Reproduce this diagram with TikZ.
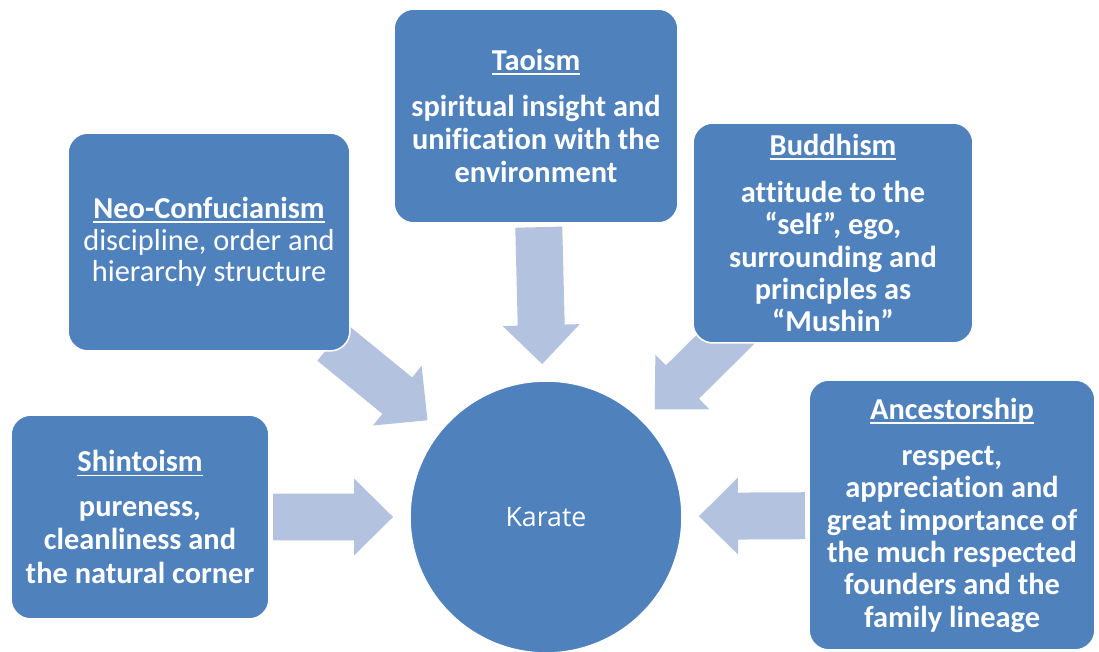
\documentclass[tikz,border=0pt]{standalone}
\usepackage{fontspec}
\setmainfont{Carlito}[Ligatures=NoCommon]
\newfontfamily\karatefont{Open Sans}
\usetikzlibrary{calc}
\pgfdeclarelayer{bg}
\pgfsetlayers{bg,main}
\definecolor{boxblue}{RGB}{79,129,189}
\definecolor{arrowblue}{RGB}{179,194,222}
% zero kern: keeps letter pairs such as t-i and f-i apart
\newcommand\zk{\kern0pt}
% underlined heading with a heavier rule than \underline
\newsavebox\ttlbox
\newcommand\ttl[1]{\sbox\ttlbox{#1}\usebox\ttlbox\kern-\wd\ttlbox\rule[-2.6pt]{\wd\ttlbox}{1pt}}
% block arrow from node #1 towards the centre circle; #2 = distance of its tail from the centre
\newcommand\inflow[2]{%
  \fill[arrowblue] let \p1=($(#1.center)-(karate.center)$), \n1={atan2(\y1,\x1)} in
    ($(karate.center)+(\n1:3.06cm)$)
    -- ($(karate.center)+(\n1:3.84cm)+(\n1+90:0.77cm)$)
    -- ($(karate.center)+(\n1:3.84cm)+(\n1+90:0.47cm)$)
    -- ($(karate.center)+(\n1:#2)+(\n1+90:0.47cm)$)
    -- ($(karate.center)+(\n1:#2)+(\n1-90:0.47cm)$)
    -- ($(karate.center)+(\n1:3.84cm)+(\n1-90:0.47cm)$)
    -- ($(karate.center)+(\n1:3.84cm)+(\n1-90:0.77cm)$)
    -- cycle;}
\tikzset{
  box/.style={draw=white, line width=0.03cm, fill=boxblue, rounded corners=0.4cm,
    text=white, align=center, inner sep=0pt},
  bodyb/.style={font=\fontsize{17.3}{#1}\selectfont\bfseries},
  hub/.style={circle, draw=white, line width=0.03cm, fill=boxblue, text=white,
    minimum size=5.44cm, inner sep=0pt, font=\karatefont\fontsize{15.2}{18}\selectfont}
}
\begin{document}
\begin{tikzpicture}[x=0.02cm, y=-0.02cm]
\useasboundingbox (0,0) rectangle (1099,652);

\node[hub] (karate) at (546,517) {Karate};

\node[box, minimum width=5.16cm, minimum height=4.08cm, bodyb=19pt] (shinto) at (140,517)
  {\ttl{Shintoism}\\[6.5pt] pureness,\\ cleanliness and\\ the natural corner};

\node[box, minimum width=5.64cm, minimum height=4.36cm,
  font=\fontsize{17.3}{18}\selectfont] (neo) at (209,242)
  {\textbf{\ttl{Neo-Confucianism}}\\ discipline, order and\\ hierarchy structure};

\node[box, minimum width=5.68cm, minimum height=4.28cm, bodyb=19pt] (tao) at (536,116)
  {\ttl{Taoism}\\[7pt] spiritual insight and\\ unif\zk icat\zk ion with the\\ environment};

\node[box, minimum width=5.6cm, minimum height=4.4cm, bodyb=18.4pt] (buddha) at (833,233)
  {\ttl{Buddhism}\\[8.5pt] at\zk t\zk itude to the\\ “self”, ego,\\ surrounding and\\ principles as\\ “Mushin”};

\node[box, minimum width=5.72cm, minimum height=5.4cm, bodyb=18.4pt] (ancestor) at (952,515)
  {\ttl{Ancestorship}\\[8pt] respect,\\ appreciat\zk ion and\\ great importance of\\ the much respected\\ founders and the\\ family lineage};

\begin{pgfonlayer}{bg}
  \inflow{shinto}{5.46cm}
  \inflow{neo}{5.52cm}
  \inflow{tao}{5.8cm}
  \inflow{buddha}{5.6cm}
  \inflow{ancestor}{5.18cm}
\end{pgfonlayer}
\end{tikzpicture}
\end{document}
